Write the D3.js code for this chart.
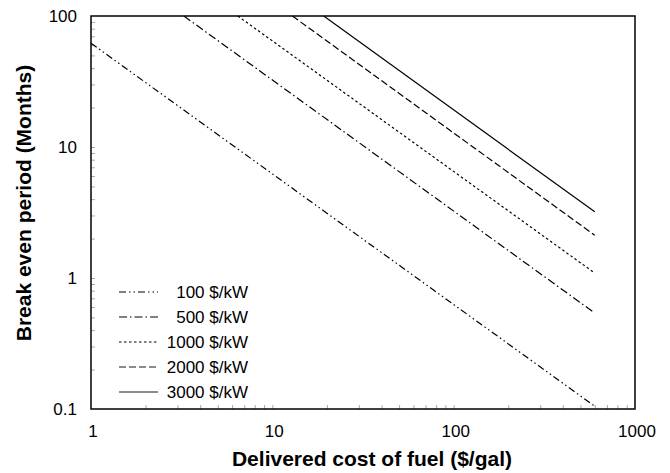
<!DOCTYPE html>
<html>
<head>
<meta charset="utf-8">
<script src="https://cdn.jsdelivr.net/npm/d3@7"></script>
<style>
  body { margin: 0; background: #fff; }
  text { font-family: "Liberation Sans", Arial, sans-serif; }
</style>
</head>
<body>
<div id="chart"></div>
<script>
const width = 670;
const height = 473;

// cost of fuel ($/gal) -> break even period (months)
const seriesNames = ["100 $/kW", "500 $/kW", "1000 $/kW", "2000 $/kW", "3000 $/kW"];
const series100 = [[1, 62], [600, 0.105]];
const series500 = [[3.25, 100], [600, 0.54]];
const series1000 = [[6.45, 100], [600, 1.09]];
const series2000 = [[12.9, 100], [600, 2.12]];
const series3000 = [[19.2, 100], [600, 3.2]];
const allSeries = [series100, series500, series1000, series2000, series3000];

const xTicks = [1, 10, 100, 1000];
const yTicks = [0.1, 1, 10, 100];

const dashes = ["7,3,1.5,3,1.5,3", "8,3,1.5,3", "2.5,2.5", "7,3", null];

const margin = { left: 91, right: 35, top: 16, bottom: 64 };

const svg = d3.select("#chart").append("svg")
  .attr("width", width)
  .attr("height", height);

const x = d3.scaleLog()
  .domain([1, 1000])
  .range([margin.left, width - margin.right]);

const y = d3.scaleLog()
  .domain([0.1, 100])
  .range([height - margin.bottom, margin.top]);

// minor ticks (inward, gray)
const xMinor = [];
const yMinor = [];
[1, 10, 100].forEach(d => { for (let k = 2; k <= 9; k++) xMinor.push(d * k); });
[0.1, 1, 10].forEach(d => { for (let k = 2; k <= 9; k++) yMinor.push(d * k); });

svg.append("g")
  .attr("transform", `translate(0, ${height - margin.bottom})`)
  .call(d3.axisBottom(x).tickValues(xMinor.concat([10, 100])).tickSize(-4).tickFormat(""))
  .call(g => g.select(".domain").remove())
  .selectAll("line").attr("stroke", "#aaa");

svg.append("g")
  .attr("transform", `translate(${margin.left}, 0)`)
  .call(d3.axisLeft(y).tickValues(yMinor.concat([1, 10])).tickSize(-4).tickFormat(""))
  .call(g => g.select(".domain").remove())
  .selectAll("line").attr("stroke", "#aaa");

// tick labels
svg.append("g").selectAll("text")
  .data(xTicks)
  .enter()
  .append("text")
  .attr("x", d => x(d) + 2)
  .attr("y", height - margin.bottom + 28)
  .attr("text-anchor", "middle")
  .style("font-size", "17px")
  .text(d => d);

svg.append("g").selectAll("text")
  .data(yTicks)
  .enter()
  .append("text")
  .attr("x", margin.left - 14)
  .attr("y", d => y(d) + 6)
  .attr("text-anchor", "end")
  .style("font-size", "17px")
  .text(d => d);

// lines
const line = d3.line()
  .x(d => x(d[0]))
  .y(d => y(d[1]));

svg.append("g").selectAll("path")
  .data(allSeries)
  .enter()
  .append("path")
  .attr("d", line)
  .attr("fill", "none")
  .attr("stroke", "#000")
  .attr("stroke-width", 1.2)
  .attr("stroke-dasharray", (d, i) => dashes[i]);

// plot frame
svg.append("rect")
  .attr("x", margin.left)
  .attr("y", margin.top)
  .attr("width", width - margin.left - margin.right)
  .attr("height", height - margin.top - margin.bottom)
  .attr("fill", "none")
  .attr("stroke", "#000")
  .attr("stroke-width", 1.5);

// legend
const legend = svg.append("g");
seriesNames.forEach((name, i) => {
  const ly = 292 + i * 25;
  legend.append("line")
    .attr("x1", 119)
    .attr("x2", 158)
    .attr("y1", ly)
    .attr("y2", ly)
    .attr("stroke", i >= 3 ? "#666" : "#000")
    .attr("stroke-width", i >= 3 ? 1.5 : 1)
    .attr("stroke-dasharray", dashes[i]);
  legend.append("text")
    .attr("x", 248)
    .attr("y", ly + 6)
    .attr("text-anchor", "end")
    .style("font-size", "17px")
    .text(name);
});

// axis titles
svg.append("text")
  .attr("x", 372)
  .attr("y", height - 7)
  .attr("text-anchor", "middle")
  .style("font-size", "21px")
  .style("font-weight", "bold")
  .text("Delivered cost of fuel ($/gal)");

svg.append("text")
  .attr("transform", "rotate(-90)")
  .attr("x", -203)
  .attr("y", 31)
  .attr("text-anchor", "middle")
  .style("font-size", "21px")
  .style("font-weight", "bold")
  .text("Break even period (Months)");
</script>
</body>
</html>
